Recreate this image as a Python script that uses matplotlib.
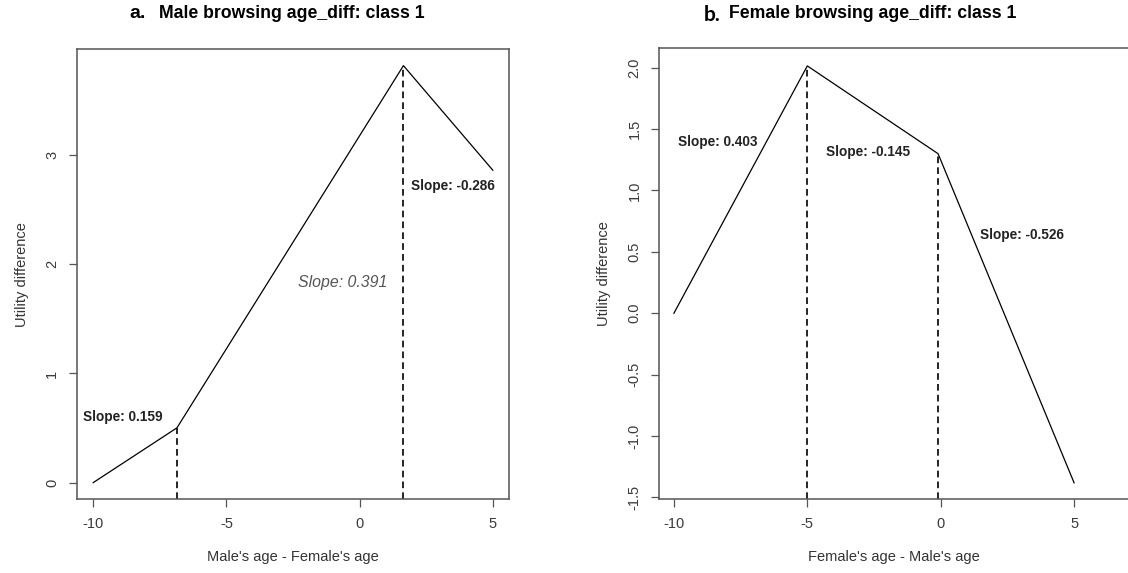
import matplotlib.pyplot as plt

# piecewise utility curves (knot positions and values)
male_x = [-10, -6.856, 1.645, 5]
male_y = [0.0, 0.502, 3.82, 2.862]
male_slopes = ["0.159", "0.391", "-0.286"]

female_x = [-10, -5, -0.1, 5]
female_y = [0.0, 2.015, 1.30, -1.382]
female_slopes = ["0.403", "-0.145", "-0.526"]

male_ticks_y = [0, 1, 2, 3]
female_ticks_y = [-1.5, -1.0, -0.5, 0.0, 0.5, 1.0, 1.5, 2.0]
ticks_x = [-10, -5, 0, 5]

plt.rcParams['font.family'] = ['Liberation Sans', 'DejaVu Sans']
plt.rcParams['text.color'] = '#222222'
spine_col = '#555555'
label_font = ['Liberation Sans Narrow', 'Liberation Sans', 'DejaVu Sans']
label_size = 9.8

fig = plt.figure(figsize=(11.28, 5.73), dpi=100)
ax1 = fig.add_axes([0.068, 0.1286, 0.3833, 0.786])
ax2 = fig.add_axes([0.5842, 0.1286, 0.4158, 0.787])


def r_style(ax, yticks, fmt):
    for side in ['top', 'bottom', 'left', 'right']:
        ax.spines[side].set_color(spine_col)
        ax.spines[side].set_linewidth(1.1)
    ax.set_xticks(ticks_x)
    ax.set_xticklabels([str(t) for t in ticks_x])
    ax.set_yticks(yticks)
    ax.set_yticklabels([fmt(t) for t in yticks], rotation=90, va='center')
    ax.tick_params(direction='out', length=5.5, width=0.9, color=spine_col,
                   labelsize=10.5, labelcolor='#3a3a3a', pad=7)
    ax.set_xlabel(ax.get_xlabel(), fontsize=10.5, color='#333333', labelpad=14)
    ax.set_ylabel("Utility difference", fontsize=10.5, color='#333333', labelpad=12)


# left panel
ax1.plot(male_x, male_y, color='black', lw=0.9)
lo1 = -0.153
ax1.set_xlim(-10.62, 5.61)
ax1.set_ylim(lo1, 3.973)
ax1.vlines([male_x[1], male_x[2]], lo1, [male_y[1], male_y[2]],
           colors='black', linestyles=(0, (4, 2.5)), lw=1.2)
ax1.set_xlabel("Male's age - Female's age")
r_style(ax1, male_ticks_y, lambda t: str(t))
ax1.text(-10.39, 0.60, "Slope: " + male_slopes[0], fontsize=label_size,
         fontweight='bold', family=label_font, va='center', ha='left')
ax1.text(-2.31, 1.83, "Slope: " + male_slopes[1], fontsize=11.4,
         fontstyle='italic', color='#555555', family=label_font,
         va='center', ha='left')
ax1.text(1.93, 2.72, "Slope: " + male_slopes[2], fontsize=label_size,
         fontweight='bold', family=label_font, va='center', ha='left')

# right panel
ax2.plot(female_x, female_y, color='black', lw=0.9)
lo2 = -1.516
ax2.set_xlim(-10.56, 7.02)
ax2.set_ylim(lo2, 2.158)
ax2.vlines([female_x[1], female_x[2]], lo2, [female_y[1], female_y[2]],
           colors='black', linestyles=(0, (4, 2.5)), lw=1.2)
ax2.set_xlabel("Female's age - Male's age")
r_style(ax2, female_ticks_y, lambda t: f"{t:.1f}")
ax2.spines['right'].set_visible(False)
ax2.text(-9.84, 1.396, "Slope: " + female_slopes[0], fontsize=label_size,
         fontweight='bold', family=label_font, va='center', ha='left')
ax2.text(-4.29, 1.315, "Slope: " + female_slopes[1], fontsize=label_size,
         fontweight='bold', family=label_font, va='center', ha='left')
ax2.text(1.46, 0.635, "Slope: " + female_slopes[2], fontsize=label_size,
         fontweight='bold', family=label_font, va='center', ha='left')

# panel titles
fig.text(291.5 / 1128, 1 - 14 / 573, "Male browsing age_diff: class 1",
         fontsize=12.7, fontweight='bold', ha='center', va='center', color='black')
fig.text(138 / 1128, 1 - 14 / 573, "a.", fontsize=14, fontweight='bold',
         ha='center', va='center', color='black')
fig.text(873 / 1128, 1 - 14 / 573, "Female browsing age_diff: class 1",
         fontsize=12.7, fontweight='bold', ha='center', va='center', color='black')
fig.text(712 / 1128, 1 - 15 / 573, "b.", fontsize=15, family=['Lato', 'DejaVu Sans'],
         fontweight='bold', ha='center', va='center', color='black')

fig.savefig("out.png", dpi=100)
